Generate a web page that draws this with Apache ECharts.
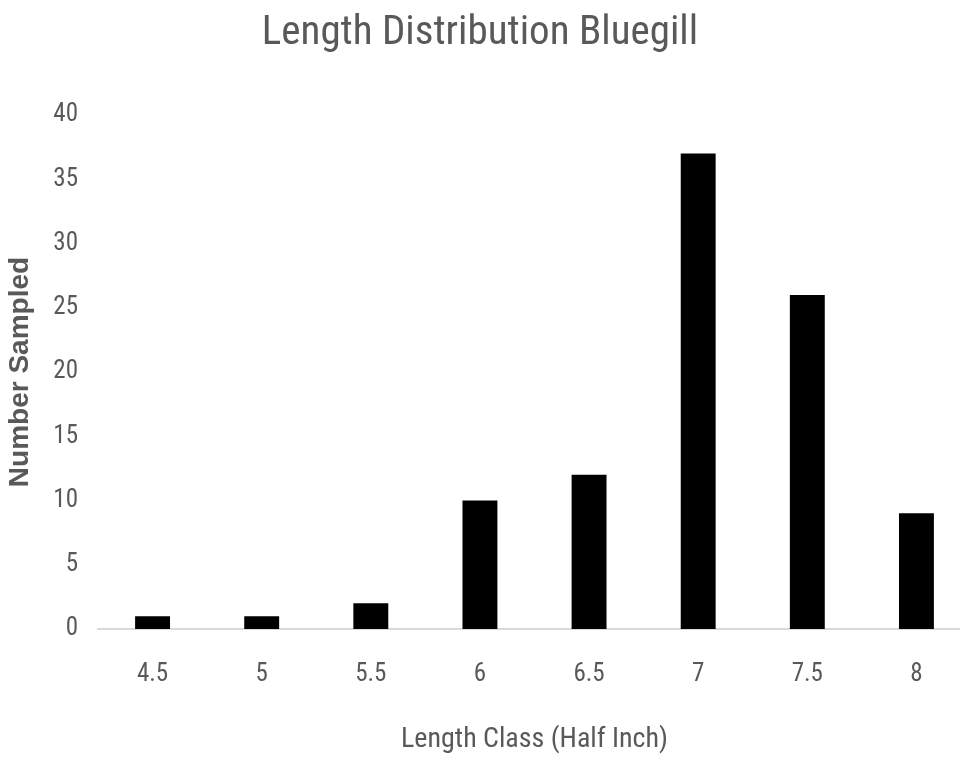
<!DOCTYPE html>
<html><head><meta charset="utf-8">
<script src="https://cdn.jsdelivr.net/npm/echarts@6/dist/echarts.min.js"></script>
<style>html,body{margin:0;padding:0;background:#fff}#c{width:960px;height:757px}</style>
</head><body><div id="c"></div>
<script>
const categories = ['4.5','5','5.5','6','6.5','7','7.5','8'];
const counts = [1,1,2,10,12,37,26,9];
const yTicks = {min:0, max:40, interval:5};
const narrow = '"Liberation Sans Narrow","Roboto Condensed","DejaVu Sans Condensed",sans-serif';
const chart = echarts.init(document.getElementById('c'));
chart.setOption({
  animation:false,
  title:{text:'Length Distribution Bluegill', left:'center', top:8,
    textStyle:{fontFamily:narrow, fontSize:41, fontWeight:'normal', color:'#595959'}},
  grid:{left:98, top:115, width:873, height:514, outerBoundsMode:'none', containLabel:false},
  xAxis:{type:'category', data:categories,
    axisLine:{lineStyle:{color:'#d9d9d9', width:2}}, axisTick:{show:false},
    axisLabel:{fontFamily:narrow, fontSize:25, color:'#595959', margin:33},
    name:'Length Class (Half Inch)', nameLocation:'middle', nameGap:97,
    nameTextStyle:{fontFamily:narrow, fontSize:28, color:'#595959'}},
  yAxis:{type:'value', min:yTicks.min, max:yTicks.max, interval:yTicks.interval,
    splitLine:{show:false}, axisLine:{show:false}, axisTick:{show:false},
    axisLabel:{fontFamily:narrow, fontSize:25, color:'#595959', margin:20},
    name:'Number Sampled', nameLocation:'middle', nameGap:64,
    nameTextStyle:{fontFamily:'Liberation Sans, Arial, sans-serif', fontSize:28, fontWeight:'bold', color:'#595959'}},
  series:[{type:'bar', data:counts, barWidth:'32%', itemStyle:{color:'#000'}}]
});
</script></body></html>
